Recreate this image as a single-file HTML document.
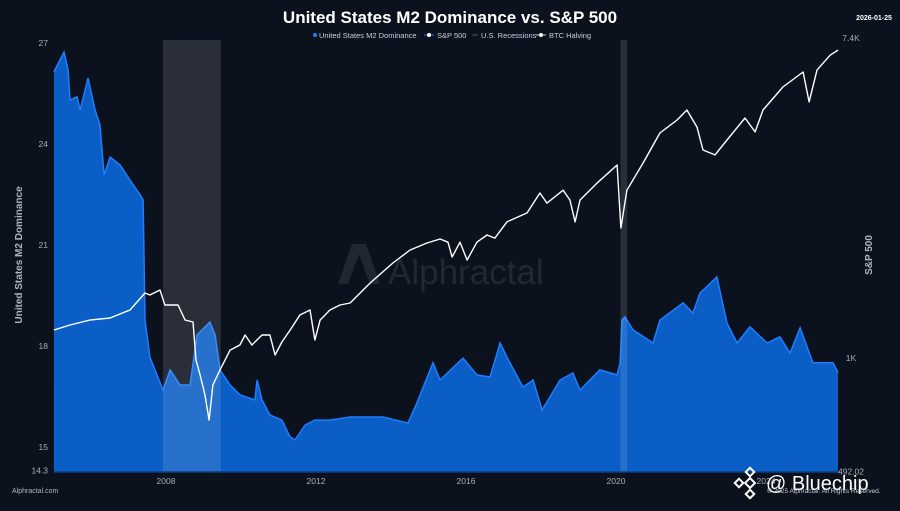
<!DOCTYPE html>
<html><head><meta charset="utf-8">
<style>
html,body{margin:0;padding:0;background:#0c121d;}
body{width:900px;height:506px;overflow:hidden;font-family:"Liberation Sans",sans-serif;}
svg text{font-family:"Liberation Sans",sans-serif;}
</style></head>
<body>
<svg id="chart" width="900" height="506" viewBox="0 0 900 506" xmlns="http://www.w3.org/2000/svg">
<rect width="900" height="506" fill="#0c121d"/>
<text x="450" y="23" text-anchor="middle" fill="#fff" font-size="17" font-weight="bold">United States M2 Dominance vs. S&amp;P 500</text>
<text x="874" y="20" text-anchor="middle" fill="#fff" font-size="7" font-weight="bold">2026-01-25</text>
<g font-size="7.5" fill="#ccd">
 <g><circle cx="315" cy="35" r="2" fill="#1f7dff"/><text x="319" y="38">United States M2 Dominance</text></g>
 <g><line x1="424" y1="35" x2="434" y2="35" stroke="#1f7dff"/><circle cx="429" cy="35" r="2" fill="#fff"/><text x="437" y="38">S&amp;P 500</text></g>
 <g><line x1="472" y1="35" x2="478" y2="35" stroke="#555"/><text x="481" y="38">U.S. Recessions</text></g>
 <g><line x1="536" y1="35" x2="546" y2="35" stroke="#ccc"/><circle cx="541" cy="35" r="2" fill="#fff"/><text x="549" y="38">BTC Halving</text></g>
</g>
<g id="watermark" opacity="0.09">
 <path d="M338,284 L352,244 L366,244 L380,284 L370,284 L359,254 L348,284 Z" fill="#fff"/>
 <text x="388" y="284" fill="#fff" font-size="35">Alphractal</text>
</g>
<g id="plot"></g>
<text transform="translate(22,255) rotate(-90)" text-anchor="middle" fill="#b0b4bc" font-size="10" font-weight="bold">United States M2 Dominance</text>
<text transform="translate(872,255) rotate(-90)" text-anchor="middle" fill="#b0b4bc" font-size="10" font-weight="bold">S&amp;P 500</text>
<text x="12" y="493" fill="#b0b4bc" font-size="7">Alphractal.com</text>
<g>
 <g transform="translate(750,483)" fill="none" stroke="#fff" stroke-width="2">
  <rect x="-3.5" y="-3.5" width="7" height="7" transform="rotate(45)"/>
  <rect x="-3" y="-14" width="6" height="6" transform="rotate(45 0 -11)"/>
  <rect x="-3" y="8" width="6" height="6" transform="rotate(45 0 11)"/>
  <rect x="-14" y="-3" width="6" height="6" transform="rotate(45 -11 0)"/>
 </g>
 <text x="766" y="490" fill="#fff" font-size="20">@ Bluechip</text>
 <text x="767" y="493" fill="#c8ccd4" font-size="6.5">© 2025 Alphractal. All Rights Reserved.</text>
</g>
</svg>
<script>
const m2Years=[2005.01,2005.28,2005.39,2005.44,2005.63,2005.71,2005.92,2006.11,2006.24,2006.35,2006.51,2006.77,2007.04,2007.31,2007.39,2007.44,2007.57,2007.92,2008.11,2008.37,2008.64,2008.83,2009.17,2009.31,2009.44,2009.71,2009.97,2010.37,2010.43,2010.56,2010.77,2011.09,2011.31,2011.44,2011.71,2011.97,2012.37,2012.91,2013.79,2014.45,2014.69,2015.12,2015.31,2015.92,2016.29,2016.64,2016.91,2017.09,2017.52,2017.79,2018.03,2018.51,2018.85,2019.04,2019.57,2020.03,2020.11,2020.16,2020.24,2020.45,2020.99,2021.17,2021.79,2022.05,2022.24,2022.69,2022.96,2023.23,2023.57,2024.03,2024.37,2024.64,2024.91,2025.25,2025.79,2025.92];
const m2Values=[26.14,26.73,26.20,25.31,25.40,25.01,25.96,25.01,24.56,23.08,23.61,23.38,22.93,22.49,22.34,18.77,17.67,16.69,17.29,16.84,16.84,18.33,18.71,18.33,17.29,16.84,16.55,16.40,16.99,16.40,15.95,15.80,15.30,15.21,15.65,15.80,15.80,15.89,15.89,15.71,16.31,17.50,16.99,17.64,17.14,17.08,18.09,17.67,16.78,16.99,16.10,16.99,17.20,16.69,17.29,17.14,17.50,18.77,18.86,18.48,18.09,18.77,19.28,18.98,19.57,20.05,18.68,18.09,18.57,18.09,18.27,17.79,18.54,17.50,17.50,17.20];
const spYears=[2005.01,2005.44,2005.97,2006.51,2007.04,2007.44,2007.57,2007.84,2007.97,2008.32,2008.51,2008.72,2008.80,2008.91,2009.04,2009.15,2009.25,2009.44,2009.71,2009.97,2010.11,2010.29,2010.56,2010.77,2010.91,2011.09,2011.31,2011.57,2011.84,2011.97,2012.11,2012.37,2012.64,2012.91,2013.44,2014.05,2014.51,2014.96,2015.31,2015.52,2015.63,2015.84,2016.03,2016.29,2016.56,2016.77,2017.09,2017.63,2017.97,2018.16,2018.59,2018.77,2018.91,2019.04,2019.49,2020.03,2020.13,2020.29,2020.72,2021.17,2021.63,2021.89,2022.16,2022.32,2022.64,2022.96,2023.44,2023.71,2023.92,2024.45,2024.99,2025.15,2025.36,2025.71,2025.92];
const spValues=[1191,1229,1268,1284,1350,1502,1483,1530,1393,1393,1268,1253,988,899,793,678,845,928,1051,1085,1155,1085,1155,1155,1019,1105,1191,1309,1350,1119,1268,1350,1393,1411,1598,1812,1966,2054,2106,2064,1881,2064,1846,2064,2159,2118,2344,2479,2807,2636,2858,2688,2344,2688,2986,3345,2256,2858,3386,4087,4433,4720,4242,3675,3563,3911,4489,4115,4720,5451,5985,4965,6060,6651,6866];
const recessionStarts=[2007.92,2020.12];
const recessionEnds=[2009.46,2020.3];
const leftTicks=[27,24,21,18,15,14.3];
const rightTicks=[7400,1000,492.02];
const rightTickLabels=["7.4K","1K","492.02"];
const xTicks=[2008,2012,2016,2020,2024];

const NS="http://www.w3.org/2000/svg";
const X0=54,X1=840,Y0=40,Y1=472;
const xs=y=>166+(y-2008)*37.5;
const yL=v=>447-(v-15)*33.67;
const yR=v=>358-(Math.log10(v)-3)*368;
const plot=document.getElementById('plot');
function mk(t,a){const e=document.createElementNS(NS,t);for(const k in a)e.setAttribute(k,a[k]);plot.appendChild(e);return e;}

let d=`M${xs(m2Years[0])},${Y1}`;
m2Years.forEach((yr,i)=>{d+=` L${xs(yr).toFixed(1)},${yL(m2Values[i]).toFixed(1)}`;});
d+=` L${xs(m2Years[m2Years.length-1]).toFixed(1)},${Y1} Z`;
const area=mk('path',{d:d,fill:'#0a5ec6'});


let ld='';
m2Years.forEach((yr,i)=>{ld+=(i?' L':'M')+xs(yr).toFixed(1)+','+yL(m2Values[i]).toFixed(1);});
const m2line=mk('path',{d:ld,fill:'none',stroke:'#1f7dff','stroke-width':1.5});



recessionStarts.forEach((s,i)=>{
  const r=mk('rect',{x:xs(s),y:Y0,width:xs(recessionEnds[i])-xs(s),height:Y1-Y0,fill:'#ffffff','fill-opacity':0.12});
  
  
});

const bl=mk('line',{x1:X0,x2:X1,y1:Y1,y2:Y1,stroke:'#0a3f85','stroke-width':1.5});



let sd='';
spYears.forEach((yr,i)=>{sd+=(i?' L':'M')+xs(yr).toFixed(1)+','+yR(spValues[i]).toFixed(1);});
const sp=mk('path',{d:sd,fill:'none',stroke:'#ffffff','stroke-width':1.4,'stroke-linejoin':'round'});



leftTicks.forEach(v=>{
  const t=mk('text',{x:48,y:yL(v)+3,'text-anchor':'end',fill:'#a8acb4','font-size':8.5});
  t.textContent=String(v);
  
  
});
rightTicks.forEach((v,i)=>{
  const t=mk('text',{x:851,y:yR(v)+3,'text-anchor':'middle',fill:'#a8acb4','font-size':8.5});
  t.textContent=rightTickLabels[i];
  
  
});
xTicks.forEach(v=>{
  const t=mk('text',{x:xs(v),y:484,'text-anchor':'middle',fill:'#a8acb4','font-size':8.5});
  t.textContent=String(v);
  
  
});
</script>
</body></html>
